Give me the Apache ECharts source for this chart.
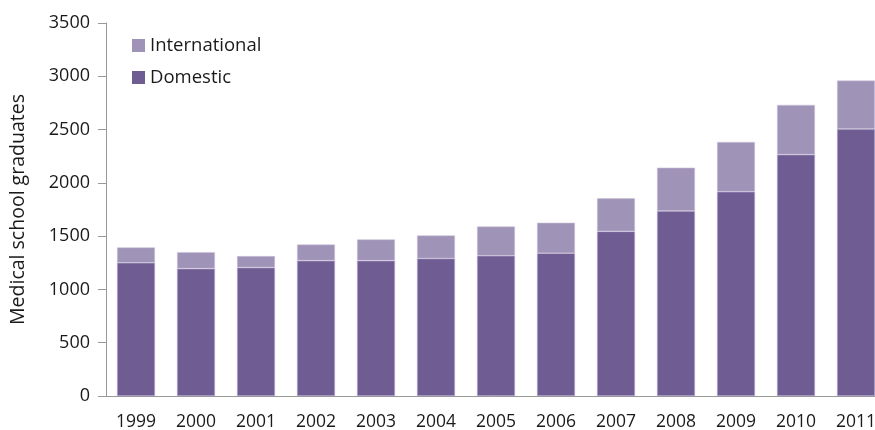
<!DOCTYPE html>
<html>
<head>
<meta charset="utf-8">
<script src="https://cdn.jsdelivr.net/npm/echarts@6/dist/echarts.min.js"></script>
<style>
  html, body { margin: 0; padding: 0; background: #fff; }
  #chart { width: 875px; height: 430px; }
</style>
</head>
<body>
<div id="chart"></div>
<script>
// Medical school graduates by year, split into domestic and international students
const years = ['1999', '2000', '2001', '2002', '2003', '2004', '2005', '2006', '2007', '2008', '2009', '2010', '2011'];
const domestic = [1250, 1195, 1205, 1270, 1270, 1290, 1316, 1340, 1545, 1736, 1917, 2265, 2506];
const international = [145, 155, 108, 152, 200, 217, 275, 286, 310, 407, 467, 467, 454];
const yTicks = { min: 0, max: 3500, interval: 500 };

const FONT = '"Open Sans", "Noto Sans", sans-serif';
const chart = echarts.init(document.getElementById('chart'), null, { renderer: 'canvas' });

chart.setOption({
  animation: false,
  grid: {
    left: 106, top: 23, width: 780, height: 373,
    containLabel: false,
    outerBoundsMode: 'none'
  },
  legend: {
    orient: 'vertical',
    left: 127,
    top: 31,
    itemWidth: 13,
    itemHeight: 13,
    itemGap: 13,
    icon: 'rect',
    data: ['International', 'Domestic'],
    itemStyle: { borderWidth: 0 },
    textStyle: { fontFamily: FONT, fontSize: 18.5, color: '#1a1a1a' }
  },
  xAxis: {
    type: 'category',
    data: years,
    axisLine: { lineStyle: { color: '#999', width: 1 } },
    axisTick: { show: false },
    axisLabel: { fontFamily: FONT, fontSize: 17.5, color: '#1a1a1a', margin: 17, interval: 0 }
  },
  yAxis: {
    type: 'value',
    min: yTicks.min,
    max: yTicks.max,
    interval: yTicks.interval,
    name: 'Medical school graduates',
    nameLocation: 'middle',
    nameGap: 78,
    nameTextStyle: { fontFamily: FONT, fontSize: 19.5, color: '#1a1a1a' },
    axisLine: { show: true, lineStyle: { color: '#999', width: 1 } },
    axisTick: { show: true, length: 8, lineStyle: { color: '#999' } },
    splitLine: { show: false },
    axisLabel: {
      fontFamily: FONT, fontSize: 18, color: '#1a1a1a', margin: 16,
      formatter: (v) => String(v)
    }
  },
  series: [
    {
      name: 'Domestic',
      type: 'bar',
      stack: 'total',
      barWidth: 38,
      data: domestic,
      itemStyle: { color: '#6e5c93', borderColor: '#b9aed0', borderWidth: 0.6 }
    },
    {
      name: 'International',
      type: 'bar',
      stack: 'total',
      barWidth: 38,
      data: international,
      itemStyle: { color: '#a093b8', borderColor: '#cdc5dc', borderWidth: 0.6 }
    }
  ]
});
</script>
</body>
</html>
